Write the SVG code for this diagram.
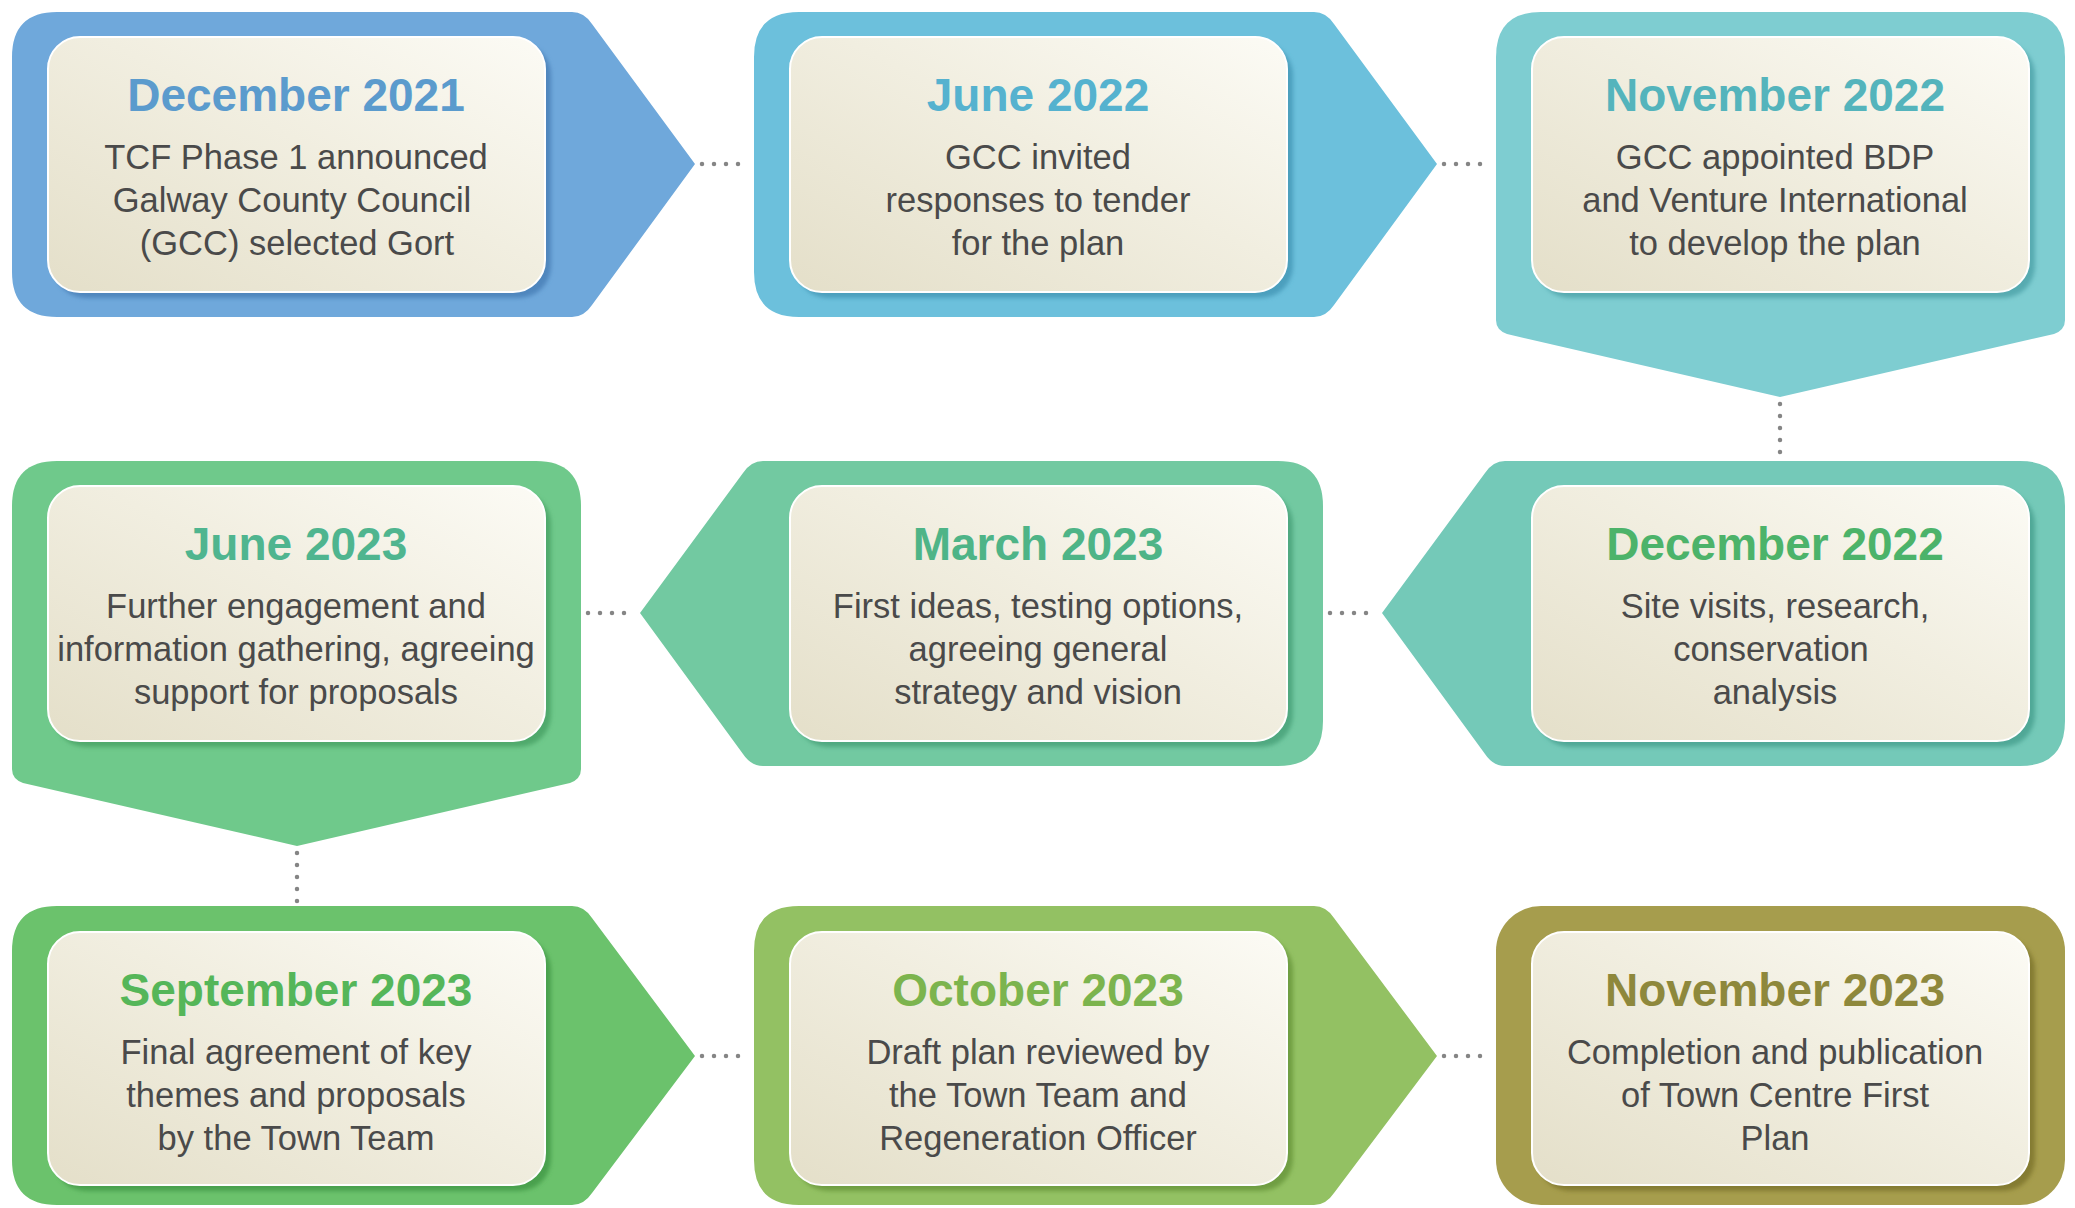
<svg xmlns="http://www.w3.org/2000/svg" width="2075" height="1208" viewBox="0 0 2075 1208">
<defs>
<linearGradient id="card" x1="0" y1="1" x2="1" y2="0">
<stop offset="0" stop-color="#e4dfc9"/>
<stop offset="0.55" stop-color="#f1eee0"/>
<stop offset="1" stop-color="#fcfbf5"/>
</linearGradient>
<filter id="blur" x="-5%" y="-5%" width="110%" height="110%"><feGaussianBlur stdDeviation="2"/></filter>
</defs>
<style>
.title{font-family:"Liberation Sans",Arial,sans-serif;font-weight:bold;font-size:46px;text-anchor:middle}
.body{font-family:"Liberation Sans",Arial,sans-serif;font-size:34.5px;fill:#4a4a4a;text-anchor:middle}
.card{fill:url(#card);stroke:#ffffff;stroke-width:2}
.dots{fill:none;stroke:#858585;stroke-width:4.5;stroke-linecap:round;stroke-dasharray:0 12}
</style>
<rect width="2075" height="1208" fill="#ffffff"/>

<g id="connectors">
<path class="dots" d="M702 164 H750"/>
<path class="dots" d="M1444 164 H1492"/>
<path class="dots" d="M1780 404 V458"/>
<path class="dots" d="M1330 613 H1378"/>
<path class="dots" d="M588 613 H636"/>
<path class="dots" d="M297 853 V903"/>
<path class="dots" d="M702 1056 H750"/>
<path class="dots" d="M1444 1056 H1492"/>
</g>

<g id="n1">
<path fill="#6fa8db" d="M57 12 H572 Q584 12 592 24 L695 164 L592 305 Q584 317 572 317 H57 Q12 317 12 272 V57 Q12 12 57 12 Z"/>
<rect x="54" y="43" width="497" height="255" rx="32" fill="#4f86bd" filter="url(#blur)"/>
<rect class="card" x="48" y="37" width="497" height="255" rx="32"/>
<text class="title" x="296" y="111" fill="#5b9bcd">December 2021</text>
<text class="body" x="296" y="169">TCF Phase 1 announced</text>
<text class="body" x="292" y="212">Galway County Council</text>
<text class="body" x="297" y="255">(GCC) selected Gort</text>
</g>

<g id="n2">
<path fill="#6cc0dc" d="M799 12 H1314 Q1326 12 1334 24 L1437 164 L1334 305 Q1326 317 1314 317 H799 Q754 317 754 272 V57 Q754 12 799 12 Z"/>
<rect x="796" y="43" width="497" height="255" rx="32" fill="#4b9fbd" filter="url(#blur)"/>
<rect class="card" x="790" y="37" width="497" height="255" rx="32"/>
<text class="title" x="1038" y="111" fill="#55b2cf">June 2022</text>
<text class="body" x="1038" y="169">GCC invited</text>
<text class="body" x="1038" y="212">responses to tender</text>
<text class="body" x="1038" y="255">for the plan</text>
</g>

<g id="n3">
<path fill="#7ecdd1" d="M1541 12 H2020 Q2065 12 2065 57 V320 Q2065 330 2054 334 L1780 397 L1507 334 Q1496 330 1496 320 V57 Q1496 12 1541 12 Z"/>
<rect x="1538" y="43" width="497" height="255" rx="32" fill="#57aab0" filter="url(#blur)"/>
<rect class="card" x="1532" y="37" width="497" height="255" rx="32"/>
<text class="title" x="1775" y="111" fill="#54b4bc">November 2022</text>
<text class="body" x="1775" y="169">GCC appointed BDP</text>
<text class="body" x="1775" y="212">and Venture International</text>
<text class="body" x="1775" y="255">to develop the plan</text>
</g>

<g id="n4">
<path fill="#74c9b8" d="M2020 461 H1505 Q1493 461 1485 473 L1382 613 L1485 754 Q1493 766 1505 766 H2020 Q2065 766 2065 721 V506 Q2065 461 2020 461 Z"/>
<rect x="1538" y="492" width="497" height="255" rx="32" fill="#4fa796" filter="url(#blur)"/>
<rect class="card" x="1532" y="486" width="497" height="255" rx="32"/>
<text class="title" x="1775" y="560" fill="#4cb36a">December 2022</text>
<text class="body" x="1775" y="618">Site visits, research,</text>
<text class="body" x="1771" y="661">conservation</text>
<text class="body" x="1775" y="704">analysis</text>
</g>

<g id="n5">
<path fill="#72c9a1" d="M1278 461 H763 Q751 461 743 473 L640 613 L743 754 Q751 766 763 766 H1278 Q1323 766 1323 721 V506 Q1323 461 1278 461 Z"/>
<rect x="796" y="492" width="497" height="255" rx="32" fill="#4fa880" filter="url(#blur)"/>
<rect class="card" x="790" y="486" width="497" height="255" rx="32"/>
<text class="title" x="1038" y="560" fill="#4eb487">March 2023</text>
<text class="body" x="1038" y="618">First ideas, testing options,</text>
<text class="body" x="1038" y="661">agreeing general</text>
<text class="body" x="1038" y="704">strategy and vision</text>
</g>

<g id="n6">
<path fill="#6fc98b" d="M57 461 H536 Q581 461 581 506 V769 Q581 779 570 783 L297 846 L23 783 Q12 779 12 769 V506 Q12 461 57 461 Z"/>
<rect x="54" y="492" width="497" height="255" rx="32" fill="#4fa96c" filter="url(#blur)"/>
<rect class="card" x="48" y="486" width="497" height="255" rx="32"/>
<text class="title" x="296" y="560" fill="#4fb58f">June 2023</text>
<text class="body" x="296" y="618">Further engagement and</text>
<text class="body" x="296" y="661">information gathering, agreeing</text>
<text class="body" x="296" y="704">support for proposals</text>
</g>

<g id="n7">
<path fill="#6bc26c" d="M57 906 H572 Q584 906 592 918 L695 1056 L592 1193 Q584 1205 572 1205 H57 Q12 1205 12 1160 V951 Q12 906 57 906 Z"/>
<rect x="54" y="938" width="497" height="253" rx="32" fill="#4aa04d" filter="url(#blur)"/>
<rect class="card" x="48" y="932" width="497" height="253" rx="32"/>
<text class="title" x="296" y="1006" fill="#55b659">September 2023</text>
<text class="body" x="296" y="1064">Final agreement of key</text>
<text class="body" x="296" y="1107">themes and proposals</text>
<text class="body" x="296" y="1150">by the Town Team</text>
</g>

<g id="n8">
<path fill="#93c163" d="M799 906 H1314 Q1326 906 1334 918 L1437 1056 L1334 1193 Q1326 1205 1314 1205 H799 Q754 1205 754 1160 V951 Q754 906 799 906 Z"/>
<rect x="796" y="938" width="497" height="253" rx="32" fill="#6f9e42" filter="url(#blur)"/>
<rect class="card" x="790" y="932" width="497" height="253" rx="32"/>
<text class="title" x="1038" y="1006" fill="#7cb44e">October 2023</text>
<text class="body" x="1038" y="1064">Draft plan reviewed by</text>
<text class="body" x="1038" y="1107">the Town Team and</text>
<text class="body" x="1038" y="1150">Regeneration Officer</text>
</g>

<g id="n9">
<rect x="1496" y="906" width="569" height="299" rx="45" fill="#a69d4d"/>
<rect x="1538" y="938" width="497" height="253" rx="32" fill="#847b30" filter="url(#blur)"/>
<rect class="card" x="1532" y="932" width="497" height="253" rx="32"/>
<text class="title" x="1775" y="1006" fill="#8e883c">November 2023</text>
<text class="body" x="1775" y="1064">Completion and publication</text>
<text class="body" x="1775" y="1107">of Town Centre First</text>
<text class="body" x="1775" y="1150">Plan</text>
</g>
</svg>
